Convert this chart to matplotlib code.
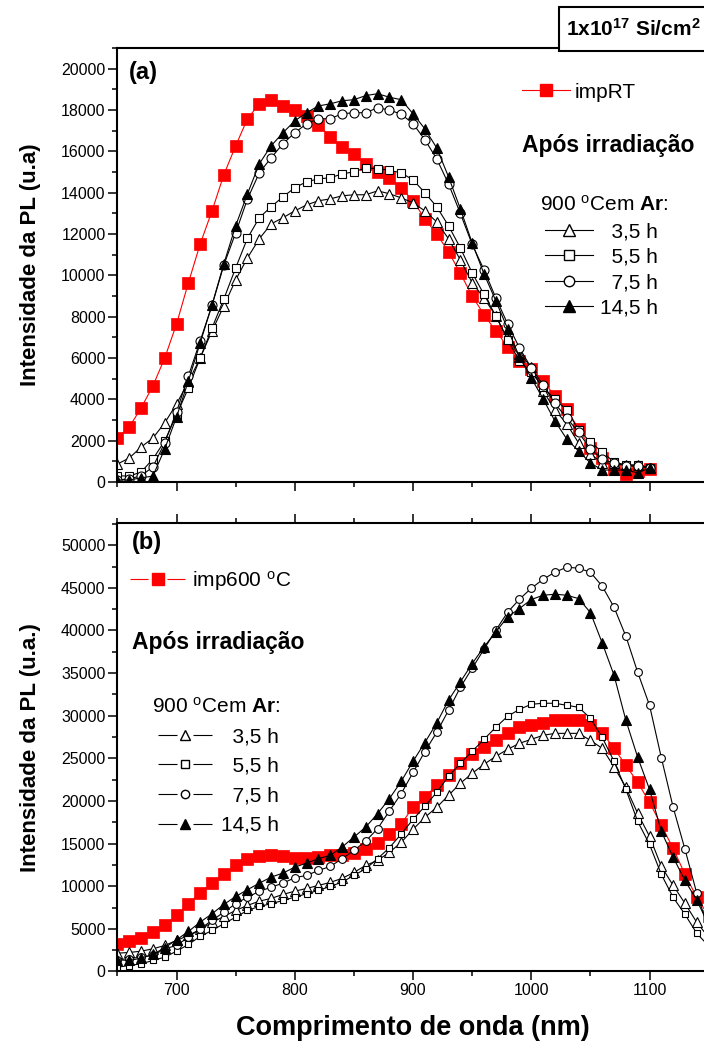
import matplotlib
matplotlib.use("Agg")
import matplotlib.pyplot as plt
from matplotlib.lines import Line2D
from matplotlib.patches import Rectangle
from matplotlib.ticker import MultipleLocator

plt.rcParams['font.family'] = ['Liberation Sans', 'DejaVu Sans']
plt.rcParams['mathtext.fontset'] = 'custom'
plt.rcParams['mathtext.rm'] = 'Liberation Sans'
plt.rcParams['mathtext.bf'] = 'Liberation Sans:bold'
plt.rcParams['mathtext.it'] = 'Liberation Sans:italic'
plt.rcParams['lines.scale_dashes'] = False

# ---------------- data: panel (a) ----------------
wl_a = [650, 660, 670, 680, 690, 700, 710, 720, 730, 740, 750, 760, 770, 780, 790,
        800, 810, 820, 830, 840, 850, 860, 870, 880, 890, 900, 910, 920, 930, 940,
        950, 960, 970, 980, 990, 1000, 1010, 1020, 1030, 1040, 1050, 1060, 1070,
        1080, 1090, 1100]

imp_rt = [2130, 2660, 3580, 4650, 6000, 7650, 9640, 11520, 13120, 14870, 16270,
          17580, 18300, 18500, 18200, 18000, 17700, 17290, 16700, 16200, 15880,
          15400, 15000, 14700, 14240, 13600, 12740, 12000, 11140, 10100, 9000,
          8100, 7310, 6540, 5860, 5470, 4890, 4160, 3530, 2570, 1650, 1160, 630,
          390, 530, 630]

a_3h5 = [870, 1160, 1690, 2130, 2860, 3780, 4850, 6000, 7310, 8520, 9780, 10850,
         11770, 12490, 12790, 13120, 13410, 13610, 13700, 13850, 13900, 13900,
         14090, 13950, 13750, 13510, 13120, 12590, 11770, 10750, 9640, 8900, 8040,
         6920, 6200, 5570, 4410, 3490, 2810, 1890, 1360, 920, 920, 820, 820, 680]

a_5h5 = [300, 290, 480, 1110, 1990, 3240, 4550, 6000, 7450, 8860, 10360, 11800,
         12790, 13320, 13800, 14240, 14530, 14670, 14720, 14910, 15010, 15200,
         15160, 15080, 14960, 14620, 14000, 13320, 12400, 11330, 10120, 9080, 8040,
         6880, 5860, 5300, 4600, 4000, 3490, 2520, 1940, 1450, 970, 820, 820, 680]

a_7h5 = [100, 150, 300, 730, 1900, 3400, 5130, 6830, 8550, 10500, 12060, 13700,
         14960, 15690, 16370, 16900, 17340, 17580, 17580, 17820, 17870, 17870,
         18110, 18000, 17800, 17340, 16560, 15640, 14430, 13000, 11500, 10270, 8910,
         7650, 6490, 5520, 4700, 3800, 3100, 2400, 1600, 1100, 920, 770, 770, 680]

a_14h5 = [100, 100, 200, 290, 1600, 3150, 4890, 6730, 8570, 10560, 12400, 13950,
          15400, 16270, 16900, 17480, 17870, 18200, 18300, 18450, 18500, 18700,
          18790, 18620, 18500, 17820, 17090, 16170, 14770, 13220, 11570, 10070, 8770,
          7410, 6050, 5040, 4020, 2950, 2080, 1500, 920, 580, 580, 580, 440, 680]

# ---------------- data: panel (b) ----------------
wl_b = [650, 660, 670, 680, 690, 700, 710, 720, 730, 740, 750, 760, 770, 780, 790,
        800, 810, 820, 830, 840, 850, 860, 870, 880, 890, 900, 910, 920, 930, 940,
        950, 960, 970, 980, 990, 1000, 1010, 1020, 1030, 1040, 1050, 1060, 1070,
        1080, 1090, 1100, 1110, 1120, 1130, 1140, 1150]

imp_600 = [3250, 3560, 3960, 4610, 5400, 6570, 7940, 9230, 10360, 11460, 12440,
           13220, 13530, 13620, 13500, 13300, 13300, 13420, 13620, 13620, 13930,
           14400, 15060, 16080, 17300, 19280, 20460, 21830, 23000, 24410, 25550,
           26330, 27190, 28000, 28670, 28960, 29140, 29460, 29540, 29460, 28870,
           28000, 26170, 24180, 22180, 19840, 17140, 14440, 11380, 8690, 6500]

b_3h5 = [2150, 2230, 2380, 2660, 3050, 3640, 4230, 4930, 5750, 6460, 7160, 7750,
         8250, 8570, 9040, 9420, 9740, 10090, 10450, 10920, 11620, 12440, 13030,
         13970, 15140, 16670, 18080, 19250, 20660, 22070, 23240, 24300, 25230,
         26060, 26760, 27230, 27700, 27930, 27930, 27930, 27110, 26170, 24000,
         21600, 18540, 15850, 12320, 10090, 7980, 5750, 4000]

b_5h5 = [500, 700, 900, 1290, 1680, 2380, 3170, 4110, 4810, 5600, 6370, 7160, 7630,
         7950, 8330, 8720, 9120, 9510, 9980, 10480, 11270, 12050, 13230, 14520,
         16120, 17840, 19370, 21010, 22890, 24410, 25820, 27230, 28640, 29930,
         30750, 31340, 31460, 31460, 31220, 30990, 29700, 27460, 24650, 21360,
         17600, 14900, 11380, 8690, 6690, 4460, 3000]

b_7h5 = [1400, 1500, 1700, 1880, 2660, 3050, 4030, 5010, 5990, 6960, 7950, 8720,
         9390, 9890, 10360, 11000, 11270, 11850, 12320, 13230, 14200, 15290, 16750,
         18820, 20860, 23340, 25800, 28050, 30630, 33330, 35560, 37790, 40020,
         42140, 43660, 44950, 46000, 46830, 47420, 47300, 46830, 45190, 42720,
         39320, 35090, 31220, 25060, 19250, 14320, 9150, 5000]

b_14h5 = [1370, 1290, 1560, 2000, 2780, 3720, 4690, 5790, 6770, 7860, 8800, 9590,
          10360, 11070, 11540, 12240, 12710, 13230, 13620, 14590, 15760, 16940,
          18510, 20270, 22300, 24650, 26850, 29140, 31810, 33960, 36110, 38060,
          39830, 41580, 42570, 43630, 44130, 44250, 44130, 43740, 42100, 38530,
          34740, 29460, 25120, 21360, 16430, 13380, 10680, 8330, 5500]

series_labels = ["  3,5 h", "  5,5 h", "  7,5 h", "14,5 h"]

# ---------------- styling ----------------
RED = '#ff0000'
LW = 0.8

def style_axis(ax, ymax, ymajor, yminor, show_top):
    ax.set_xlim(650, 1150)
    ax.set_ylim(0, ymax)
    ax.xaxis.set_major_locator(MultipleLocator(100))
    ax.xaxis.set_minor_locator(MultipleLocator(50))
    ax.yaxis.set_major_locator(MultipleLocator(ymajor))
    ax.yaxis.set_minor_locator(MultipleLocator(yminor))
    for s in ax.spines.values():
        s.set_linewidth(1.5)
    ax.tick_params(which='both', direction='out', width=1.1, top=show_top,
                   right=False, labelsize=11.5, pad=2)
    ax.tick_params(which='major', length=6.5)
    ax.tick_params(which='minor', length=3.3)


def draw_series(ax, wl, red, s35, s55, s75, s145, ms):
    ax.plot(wl, red, color=RED, lw=LW, marker='s', ms=ms['red'], mfc=RED,
            mec=RED, mew=0.5)
    ax.plot(wl, s35, color='k', lw=LW, marker='^', ms=ms['tri'], mfc='white',
            mec='k', mew=0.8)
    ax.plot(wl, s55, color='k', lw=LW, marker='s', ms=ms['sq'], mfc='white',
            mec='k', mew=0.8)
    ax.plot(wl, s75, color='k', lw=LW, marker='o', ms=ms['circ'], mfc='white',
            mec='k', mew=0.8)
    ax.plot(wl, s145, color='k', lw=LW, marker='^', ms=ms['tri'], mfc='k',
            mec='k', mew=0.8)


def proxies(ms, dashes=None):
    kw = {} if dashes is None else {'dashes': dashes}
    red = Line2D([], [], color=RED, lw=LW, marker='s', ms=ms['red'], mfc=RED,
                 mec=RED, **kw)
    black = [
        Line2D([], [], color='k', lw=LW, marker='^', ms=ms['tri'], mfc='white', mec='k', **kw),
        Line2D([], [], color='k', lw=LW, marker='s', ms=ms['sq'], mfc='white', mec='k', **kw),
        Line2D([], [], color='k', lw=LW, marker='o', ms=ms['circ'], mfc='white', mec='k', **kw),
        Line2D([], [], color='k', lw=LW, marker='^', ms=ms['tri'], mfc='k', mec='k', **kw),
    ]
    return red, black


fig = plt.figure(figsize=(7.04, 10.49), dpi=100)
ax_a = fig.add_axes([0.1668, 0.5405, 0.8398, 0.4137])
ax_b = fig.add_axes([0.1668, 0.0739, 0.8398, 0.4275])

# ---------------- panel (a) ----------------
ms_a = {'red': 8, 'tri': 7.5, 'sq': 5.5, 'circ': 6.5}
draw_series(ax_a, wl_a, imp_rt, a_3h5, a_5h5, a_7h5, a_14h5, ms_a)
style_axis(ax_a, 21000, 2000, 1000, show_top=False)
ax_a.tick_params(labelbottom=False)
ax_a.set_ylabel('Intensidade da PL (u.a)', fontsize=16, fontweight='bold',
                va='center')
ax_a.yaxis.set_label_coords(-0.147, 0.5)
ax_a.text(0.0196, 0.9447, '(a)', transform=ax_a.transAxes, fontsize=17,
          fontweight='bold', ha='left', va='center')

red_a, black_a = proxies({'red': 8, 'tri': 8.5, 'sq': 6.5, 'circ': 7.5})
leg = ax_a.legend(handles=[red_a], labels=['impRT'], loc='center left',
                  bbox_to_anchor=(0.6844, 0.8986), frameon=False, fontsize=15,
                  handlelength=2.3, handletextpad=0.24, borderpad=0,
                  borderaxespad=0, numpoints=1)
ax_a.add_artist(leg)
ax_a.text(0.6844, 0.7765, 'Após irradiação', transform=ax_a.transAxes,
          fontsize=16.5, fontweight='bold', ha='left', va='center')
ax_a.text(0.7145, 0.6382, r'900 $^{\mathrm{o}}$Cem $\mathbf{Ar}$:',
          transform=ax_a.transAxes, fontsize=15, ha='left', va='center')
ax_a.legend(handles=black_a, labels=series_labels, loc='center left',
            bbox_to_anchor=(0.7233, 0.4885), frameon=False, fontsize=15,
            handlelength=2.3, handletextpad=0.34, labelspacing=0.31,
            borderpad=0, borderaxespad=0, numpoints=1)

# ---------------- panel (b) ----------------
ms_b = {'red': 8.4, 'tri': 7.0, 'sq': 5.0, 'circ': 5.6}
draw_series(ax_b, wl_b, imp_600, b_3h5, b_5h5, b_7h5, b_14h5, ms_b)
style_axis(ax_b, 52600, 5000, 2500, show_top=True)
ax_b.set_ylabel('Intensidade da PL (u.a.)', fontsize=16, fontweight='bold',
                va='center')
ax_b.yaxis.set_label_coords(-0.147, 0.5)
ax_b.set_xlabel('Comprimento de onda (nm)', fontsize=19.5, fontweight='bold',
                va='center')
ax_b.xaxis.set_label_coords(0.5, -0.127)
ax_b.text(0.0247, 0.957, '(b)', transform=ax_b.transAxes, fontsize=17,
          fontweight='bold', ha='left', va='center')

ms_leg_b = {'red': 8.4, 'tri': 7.5, 'sq': 5.5, 'circ': 6.0}
red_b, _ = proxies(ms_leg_b, dashes=(13.0, 13.6))
_, black_b = proxies(ms_leg_b, dashes=(13.7, 11.5))
leg = ax_b.legend(handles=[red_b], labels=[r'imp600 $^{\mathrm{o}}$C'],
                  loc='center left', bbox_to_anchor=(0.0213, 0.8707),
                  frameon=False, fontsize=15, handlelength=2.64,
                  handletextpad=0.34, borderpad=0, borderaxespad=0, numpoints=1)
ax_b.add_artist(leg)
ax_b.text(0.0247, 0.7347, 'Após irradiação', transform=ax_b.transAxes,
          fontsize=16.5, fontweight='bold', ha='left', va='center')
ax_b.text(0.0585, 0.5897, r'900 $^{\mathrm{o}}$Cem $\mathbf{Ar}$:',
          transform=ax_b.transAxes, fontsize=15, ha='left', va='center')
ax_b.legend(handles=black_b, labels=series_labels, loc='center left',
            bbox_to_anchor=(0.0687, 0.4248), frameon=False, fontsize=15,
            handlelength=2.6, handletextpad=0.43, labelspacing=0.51,
            borderpad=0, borderaxespad=0, numpoints=1)

# ---------------- dose box ----------------
fig.add_artist(Rectangle((559 / 704, 1 - 51 / 1049), 0.25, 44 / 1049,
                         transform=fig.transFigure, facecolor='white',
                         edgecolor='black', lw=1.5, zorder=5))
fig.text(566 / 704, 1 - 29 / 1049,
         r'1x10$^{\mathbf{17}}$ Si/cm$^{\mathbf{2}}$', fontsize=15,
         fontweight='bold', ha='left', va='center', zorder=6)

fig.savefig('out.png', dpi=100)
